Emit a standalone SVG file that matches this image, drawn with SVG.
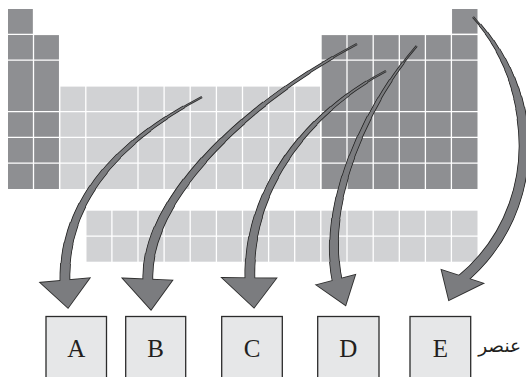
<svg xmlns="http://www.w3.org/2000/svg" xmlns:xlink="http://www.w3.org/1999/xlink" width="526" height="377" viewBox="0 0 526 377">
<style>
.dk{fill:#8e8f92}
.lt{fill:#d1d2d4}
.grid{stroke:#fff;stroke-width:1.3;fill:none}
.box{fill:#e6e7e8;stroke:#2b2b2b;stroke-width:1.3}
.lbl{font-family:"Liberation Serif","Times New Roman",serif;font-size:25px;fill:#231f20;text-anchor:middle}
.ar{font-family:"DejaVu Sans","Noto Sans",sans-serif;font-size:18.5px;fill:#231f20;text-anchor:end}
.d{fill:none;stroke:#2e2e2e}
.g{fill:none;stroke:#7b7c7f}
.hd{fill:#2e2e2e;stroke:#2e2e2e;stroke-width:1.8;stroke-linejoin:miter}
.hg{fill:#7b7c7f}
.d.w0{stroke-width:2.48}.g.w0{stroke-width:0.68}
.d.w1{stroke-width:3.23}.g.w1{stroke-width:1.43}
.d.w2{stroke-width:3.98}.g.w2{stroke-width:2.18}
.d.w3{stroke-width:4.73}.g.w3{stroke-width:2.93}
.d.w4{stroke-width:5.48}.g.w4{stroke-width:3.68}
.d.w5{stroke-width:6.23}.g.w5{stroke-width:4.43}
.d.w6{stroke-width:6.98}.g.w6{stroke-width:5.18}
.d.w7{stroke-width:7.73}.g.w7{stroke-width:5.93}
.d.w8{stroke-width:8.48}.g.w8{stroke-width:6.68}
.d.w9{stroke-width:9.23}.g.w9{stroke-width:7.43}
.d.w10{stroke-width:9.98}.g.w10{stroke-width:8.18}
.d.w11{stroke-width:10.73}.g.w11{stroke-width:8.93}
.k1{stroke-dasharray:91.67 300;stroke-dashoffset:-8.33}
.k2{stroke-dasharray:83.33 300;stroke-dashoffset:-16.67}
.k3{stroke-dasharray:75 300;stroke-dashoffset:-25}
.k4{stroke-dasharray:66.67 300;stroke-dashoffset:-33.33}
.k5{stroke-dasharray:58.33 300;stroke-dashoffset:-41.67}
.k6{stroke-dasharray:50 300;stroke-dashoffset:-50}
.k7{stroke-dasharray:41.67 300;stroke-dashoffset:-58.33}
.k8{stroke-dasharray:33.33 300;stroke-dashoffset:-66.67}
.k9{stroke-dasharray:25 300;stroke-dashoffset:-75}
.k10{stroke-dasharray:16.67 300;stroke-dashoffset:-83.33}
.k11{stroke-dasharray:8.33 300;stroke-dashoffset:-91.67}
.m1{stroke-dasharray:96.5 300;stroke-dashoffset:-3.5}
.m2{stroke-dasharray:93 300;stroke-dashoffset:-7}
.m3{stroke-dasharray:89.5 300;stroke-dashoffset:-10.5}
.m4{stroke-dasharray:86 300;stroke-dashoffset:-14}
.m5{stroke-dasharray:82.5 300;stroke-dashoffset:-17.5}
.m6{stroke-dasharray:79 300;stroke-dashoffset:-21}
.m7{stroke-dasharray:75.5 300;stroke-dashoffset:-24.5}
.m8{stroke-dasharray:72 300;stroke-dashoffset:-28}
.m9{stroke-dasharray:68.5 300;stroke-dashoffset:-31.5}
.m10{stroke-dasharray:65 300;stroke-dashoffset:-35}
.m11{stroke-dasharray:61.5 300;stroke-dashoffset:-38.5}
</style>
<defs>
<path id="c1" pathLength="100" d="M202,97 C120,140 62,200 65,284"/>
<path id="c2" pathLength="100" d="M357,44 C247,102 143,200 148,282"/>
<path id="c3" pathLength="100" d="M386,71 C320,105 246,180 250,281"/>
<path id="c4" pathLength="100" d="M416.7,46 C370,100 320,200 337.5,282.5"/>
<path id="c5" pathLength="100" d="M473,17 C542,90 544,212 460.5,280.5"/>
</defs>

<g id="table">
<rect class="dk" x="8" y="9" width="25.5" height="180"/>
<rect class="dk" x="33.5" y="35.1" width="26.1" height="153.9"/>
<rect class="lt" x="60.25" y="86.6" width="259.9" height="102.4"/>
<rect class="dk" x="321.45" y="35.1" width="156.05" height="153.9"/>
<rect class="dk" x="452" y="9" width="25.5" height="24.8"/>
<path class="grid" d="M33.5,8V190M59.6,8V190M85.8,8V190M138,8V190M164.1,8V190M190.2,8V190M216.4,8V190M242.5,8V190M268.6,8V190M294.7,8V190M320.8,8V190M347,8V190M373.2,8V190M399.3,8V190M425.4,8V190M451.4,8V190M7,34.45H479M7,60.2H479M7,111.7H479M7,137.45H479M7,163.2H479"/>
</g>

<g id="lanthanides">
<rect class="lt" x="86.5" y="210.7" width="391" height="51"/>
<path class="grid" d="M111.9,209V263M138,209V263M164.1,209V263M190.2,209V263M216.4,209V263M242.5,209V263M268.6,209V263M294.7,209V263M320.8,209V263M347,209V263M373.2,209V263M399.3,209V263M425.4,209V263M451.4,209V263M85,236.2H479"/>
</g>

<g id="connectors">
<g id="arrow1">
<use href="#c1" class="d w0"/><use href="#c1" class="d w1 k1"/><use href="#c1" class="d w2 k2"/><use href="#c1" class="d w3 k3"/><use href="#c1" class="d w4 k4"/><use href="#c1" class="d w5 k5"/><use href="#c1" class="d w6 k6"/><use href="#c1" class="d w7 k7"/><use href="#c1" class="d w8 k8"/><use href="#c1" class="d w9 k9"/><use href="#c1" class="d w10 k10"/><use href="#c1" class="d w11 k11"/>
<polygon class="hd" points="40.7,282.7 89.3,278.3 68,307.7"/>
<use href="#c1" class="g w0"/><use href="#c1" class="g w1 k1"/><use href="#c1" class="g w2 k2"/><use href="#c1" class="g w3 k3"/><use href="#c1" class="g w4 k4"/><use href="#c1" class="g w5 k5"/><use href="#c1" class="g w6 k6"/><use href="#c1" class="g w7 k7"/><use href="#c1" class="g w8 k8"/><use href="#c1" class="g w9 k9"/><use href="#c1" class="g w10 k10"/><use href="#c1" class="g w11 k11"/>
<polygon class="hg" points="40.7,282.7 89.3,278.3 68,307.7"/>
</g>
<g id="arrow2">
<use href="#c2" class="d w0"/><use href="#c2" class="d w1 k1"/><use href="#c2" class="d w2 k2"/><use href="#c2" class="d w3 k3"/><use href="#c2" class="d w4 k4"/><use href="#c2" class="d w5 k5"/><use href="#c2" class="d w6 k6"/><use href="#c2" class="d w7 k7"/><use href="#c2" class="d w8 k8"/><use href="#c2" class="d w9 k9"/><use href="#c2" class="d w10 k10"/><use href="#c2" class="d w11 k11"/>
<polygon class="hd" points="123,278.5 172,280.5 151,309.5"/>
<use href="#c2" class="g w0"/><use href="#c2" class="g w1 k1"/><use href="#c2" class="g w2 k2"/><use href="#c2" class="g w3 k3"/><use href="#c2" class="g w4 k4"/><use href="#c2" class="g w5 k5"/><use href="#c2" class="g w6 k6"/><use href="#c2" class="g w7 k7"/><use href="#c2" class="g w8 k8"/><use href="#c2" class="g w9 k9"/><use href="#c2" class="g w10 k10"/><use href="#c2" class="g w11 k11"/>
<polygon class="hg" points="123,278.5 172,280.5 151,309.5"/>
</g>
<g id="arrow3">
<use href="#c3" class="d w0"/><use href="#c3" class="d w1 k1"/><use href="#c3" class="d w2 k2"/><use href="#c3" class="d w3 k3"/><use href="#c3" class="d w4 k4"/><use href="#c3" class="d w5 k5"/><use href="#c3" class="d w6 k6"/><use href="#c3" class="d w7 k7"/><use href="#c3" class="d w8 k8"/><use href="#c3" class="d w9 k9"/><use href="#c3" class="d w10 k10"/><use href="#c3" class="d w11 k11"/>
<polygon class="hd" points="222.5,278 276,278.5 254,307.5"/>
<use href="#c3" class="g w0"/><use href="#c3" class="g w1 k1"/><use href="#c3" class="g w2 k2"/><use href="#c3" class="g w3 k3"/><use href="#c3" class="g w4 k4"/><use href="#c3" class="g w5 k5"/><use href="#c3" class="g w6 k6"/><use href="#c3" class="g w7 k7"/><use href="#c3" class="g w8 k8"/><use href="#c3" class="g w9 k9"/><use href="#c3" class="g w10 k10"/><use href="#c3" class="g w11 k11"/>
<polygon class="hg" points="222.5,278 276,278.5 254,307.5"/>
</g>
<g id="arrow4">
<use href="#c4" class="d w0"/><use href="#c4" class="d w1 k1"/><use href="#c4" class="d w2 k2"/><use href="#c4" class="d w3 k3"/><use href="#c4" class="d w4 k4"/><use href="#c4" class="d w5 k5"/><use href="#c4" class="d w6 k6"/><use href="#c4" class="d w7 k7"/><use href="#c4" class="d w8 k8"/><use href="#c4" class="d w9 k9"/><use href="#c4" class="d w10 k10"/><use href="#c4" class="d w11 k11"/>
<polygon class="hd" points="316.7,285 355,275 345.5,305"/>
<use href="#c4" class="g w0"/><use href="#c4" class="g w1 k1"/><use href="#c4" class="g w2 k2"/><use href="#c4" class="g w3 k3"/><use href="#c4" class="g w4 k4"/><use href="#c4" class="g w5 k5"/><use href="#c4" class="g w6 k6"/><use href="#c4" class="g w7 k7"/><use href="#c4" class="g w8 k8"/><use href="#c4" class="g w9 k9"/><use href="#c4" class="g w10 k10"/><use href="#c4" class="g w11 k11"/>
<polygon class="hg" points="316.7,285 355,275 345.5,305"/>
</g>
<g id="arrow5">
<use href="#c5" class="d w0"/><use href="#c5" class="d w1 m1"/><use href="#c5" class="d w2 m2"/><use href="#c5" class="d w3 m3"/><use href="#c5" class="d w4 m4"/><use href="#c5" class="d w5 m5"/><use href="#c5" class="d w6 m6"/><use href="#c5" class="d w7 m7"/><use href="#c5" class="d w8 m8"/><use href="#c5" class="d w9 m9"/><use href="#c5" class="d w10 m10"/><use href="#c5" class="d w11 m11"/>
<polygon class="hd" points="441.7,270 482.7,283.3 449,300"/>
<use href="#c5" class="g w0"/><use href="#c5" class="g w1 m1"/><use href="#c5" class="g w2 m2"/><use href="#c5" class="g w3 m3"/><use href="#c5" class="g w4 m4"/><use href="#c5" class="g w5 m5"/><use href="#c5" class="g w6 m6"/><use href="#c5" class="g w7 m7"/><use href="#c5" class="g w8 m8"/><use href="#c5" class="g w9 m9"/><use href="#c5" class="g w10 m10"/><use href="#c5" class="g w11 m11"/>
<polygon class="hg" points="441.7,270 482.7,283.3 449,300"/>
</g>
</g>

<g id="nodeA"><rect class="box" x="46" y="316.5" width="60.5" height="70"/><text class="lbl" x="76.3" y="356.7">A</text></g>
<g id="nodeB"><rect class="box" x="125.7" y="316.5" width="60" height="70"/><text class="lbl" x="155.7" y="356.7">B</text></g>
<g id="nodeC"><rect class="box" x="221.7" y="316.5" width="60.6" height="70"/><text class="lbl" x="252" y="356.7">C</text></g>
<g id="nodeD"><rect class="box" x="317.7" y="316.5" width="61.3" height="70"/><text class="lbl" x="348.3" y="356.7">D</text></g>
<g id="nodeE"><rect class="box" x="410" y="316.5" width="60.7" height="70"/><text class="lbl" x="440.3" y="356.7">E</text></g>
<text class="ar" x="521" y="351.5">عنصر</text>
</svg>
